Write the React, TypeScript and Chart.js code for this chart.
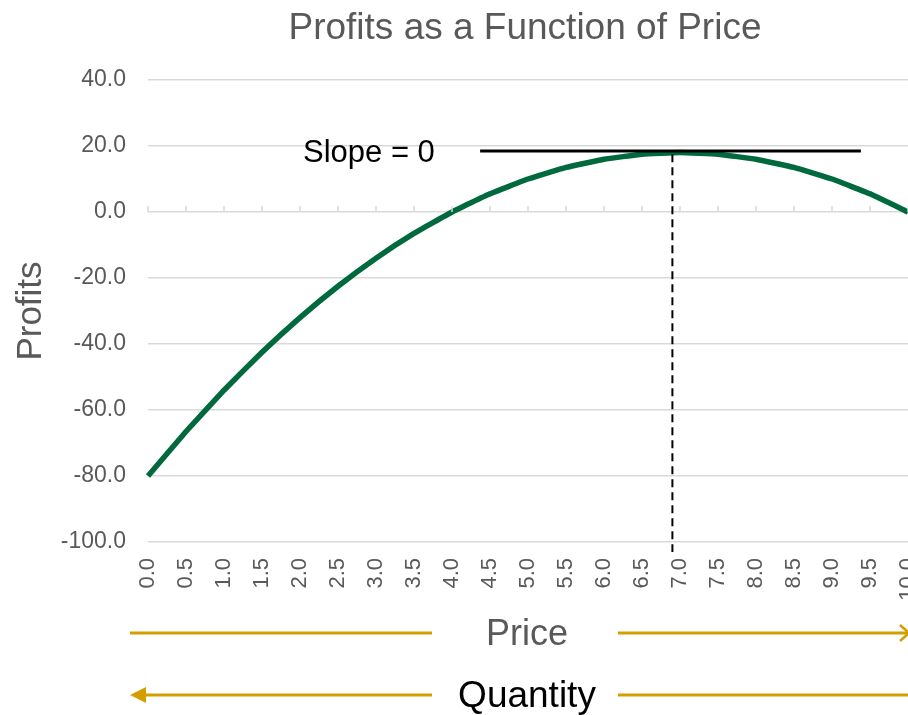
import React, { useEffect, useRef } from "react";
import { Chart, registerables } from "chart.js";

Chart.register(...registerables);

const PRICES = ["0.0","0.5","1.0","1.5","2.0","2.5","3.0","3.5","4.0","4.5","5.0","5.5","6.0","6.5","7.0","7.5","8.0","8.5","9.0","9.5","10.0"];
const PROFITS = [-80, -66.5, -54, -42.5, -32, -22.5, -14, -6.5, 0, 5.5, 10, 13.5, 16, 17.5, 18, 17.5, 16, 13.5, 10, 5.5, 0];
const Y_MIN = -100;
const Y_MAX = 40;
const Y_STEP = 20;
const TITLE = "Profits as a Function of Price";
const Y_TITLE = "Profits";
const SLOPE_LABEL = "Slope = 0";
const SLOPE_LEVEL = 18.5;
const SLOPE_FROM_PRICE = 4.37;
const SLOPE_TO_PRICE = 9.38;
const PEAK_PRICE = 6.9;
const PEAK_PROFIT = 17.5;
const X_LABEL_1 = "Price";
const X_LABEL_2 = "Quantity";

const FONT = "'Liberation Sans', Arial, sans-serif";
const GRAY = "#595959";
const GRID = "#D9D9D9";
const GOLD = "#D39E00";
const GREEN = "#00693E";

export default function App() {
  const ref = useRef<HTMLCanvasElement | null>(null);

  useEffect(() => {
    const canvas = ref.current;
    if (!canvas) return;
    const priceIdx = (p: number) => p / 0.5;

    const overlay = {
      id: "overlay",
      afterDraw(chart: any) {
        const ctx = chart.ctx as CanvasRenderingContext2D;
        const ca = chart.chartArea;
        const xs = chart.scales.x;
        const ys = chart.scales.y;
        ctx.save();
        // tick marks on zero line
        const y0 = ys.getPixelForValue(0);
        ctx.strokeStyle = GRID;
        ctx.lineWidth = 1.5;
        for (let i = 0; i < PRICES.length; i++) {
          const x = xs.getPixelForValue(i);
          ctx.beginPath();
          ctx.moveTo(x, y0 - 6);
          ctx.lineTo(x, y0);
          ctx.stroke();
        }
        // title
        const cx = (ca.left + ca.right) / 2;
        ctx.fillStyle = GRAY;
        ctx.font = `37px ${FONT}`;
        ctx.textAlign = "center";
        ctx.textBaseline = "middle";
        ctx.fillText(TITLE, cx - 3, 29);
        // y title
        ctx.save();
        ctx.translate(31, (ca.top + ca.bottom) / 2);
        ctx.rotate(-Math.PI / 2);
        ctx.font = `35px ${FONT}`;
        ctx.fillText(Y_TITLE, 0, 0);
        ctx.restore();
        // slope line
        const ySlope = ys.getPixelForValue(SLOPE_LEVEL);
        ctx.strokeStyle = "#000";
        ctx.lineWidth = 3;
        ctx.beginPath();
        ctx.moveTo(xs.getPixelForValue(priceIdx(SLOPE_FROM_PRICE)), ySlope);
        ctx.lineTo(xs.getPixelForValue(priceIdx(SLOPE_TO_PRICE)), ySlope);
        ctx.stroke();
        ctx.fillStyle = "#000";
        ctx.font = `31px ${FONT}`;
        ctx.textAlign = "left";
        ctx.fillText(SLOPE_LABEL, 303, ySlope + 3);
        // dashed peak line
        const xp = xs.getPixelForValue(priceIdx(PEAK_PRICE));
        ctx.setLineDash([8, 5]);
        ctx.lineWidth = 2;
        ctx.beginPath();
        ctx.moveTo(xp, ys.getPixelForValue(PEAK_PROFIT));
        ctx.lineTo(xp, ca.bottom + 10);
        ctx.stroke();
        ctx.setLineDash([]);
        // Price / Quantity arrows
        const rowY1 = 633;
        const rowY2 = 695;
        const leftStart = 130;
        const leftEnd = 432;
        const rightStart = 618;
        const rightEnd = ca.right;
        ctx.strokeStyle = GOLD;
        ctx.fillStyle = GOLD;
        ctx.lineWidth = 3;
        ctx.beginPath();
        ctx.moveTo(leftStart, rowY1);
        ctx.lineTo(leftEnd, rowY1);
        ctx.moveTo(rightStart, rowY1);
        ctx.lineTo(rightEnd, rowY1);
        ctx.stroke();
        ctx.lineWidth = 2.5;
        ctx.beginPath();
        ctx.moveTo(rightEnd - 8, rowY1 - 8);
        ctx.lineTo(rightEnd + 1, rowY1);
        ctx.lineTo(rightEnd - 8, rowY1 + 8);
        ctx.stroke();
        ctx.lineWidth = 3;
        ctx.beginPath();
        ctx.moveTo(leftStart + 10, rowY2);
        ctx.lineTo(leftEnd, rowY2);
        ctx.moveTo(rightStart, rowY2);
        ctx.lineTo(rightEnd + 10, rowY2);
        ctx.stroke();
        ctx.beginPath();
        ctx.moveTo(leftStart, rowY2);
        ctx.lineTo(leftStart + 16, rowY2 - 8);
        ctx.lineTo(leftStart + 16, rowY2 + 8);
        ctx.closePath();
        ctx.fill();
        ctx.textAlign = "center";
        ctx.textBaseline = "middle";
        ctx.fillStyle = GRAY;
        ctx.font = `36px ${FONT}`;
        ctx.fillText(X_LABEL_1, 527, rowY1 + 2);
        ctx.fillStyle = "#000";
        ctx.font = `37px ${FONT}`;
        ctx.fillText(X_LABEL_2, 527, rowY2 + 2);
        ctx.restore();
      },
    };

    const chart = new Chart(canvas, {
      type: "line",
      data: {
        labels: PRICES,
        datasets: [
          {
            data: PROFITS,
            borderColor: GREEN,
            backgroundColor: GREEN,
            borderWidth: 5.5,
            pointRadius: 0,
            tension: 0.1,
            fill: false,
            clip: 10,
          },
        ],
      },
      options: {
        animation: false,
        responsive: false,
        devicePixelRatio: 1,
        layout: { padding: { top: 80, left: 0, right: 52, bottom: 73 } },
        plugins: {
          legend: { display: false },
          tooltip: { enabled: false },
          title: { display: false },
        },
        scales: {
          x: {
            type: "category",
            offset: false,
            grid: { display: false, drawTicks: false },
            border: { display: false },
            ticks: {
              autoSkip: false,
              maxRotation: 90,
              minRotation: 90,
              padding: 16,
              color: GRAY,
              font: { family: FONT, size: 22 },
            },
            afterFit: (s: any) => {
              s.height = 100;
            },
          },
          y: {
            min: Y_MIN,
            max: Y_MAX,
            grid: { color: GRID, lineWidth: 1.5, drawTicks: false },
            border: { display: false },
            ticks: {
              stepSize: Y_STEP,
              padding: 22,
              color: GRAY,
              font: { family: FONT, size: 23 },
              callback: (v: any) => Number(v).toFixed(1),
            },
            afterFit: (s: any) => {
              s.width = 148;
            },
          },
        },
      },
      plugins: [overlay],
    });
    return () => chart.destroy();
  }, []);

  return (
    <div
      style={{
        position: "fixed",
        left: 0,
        top: 0,
        width: 908,
        height: 715,
        overflow: "hidden",
        background: "#fff",
      }}
    >
      <canvas ref={ref} width={960} height={715} style={{ display: "block", width: 960, height: 715 }} />
    </div>
  );
}
